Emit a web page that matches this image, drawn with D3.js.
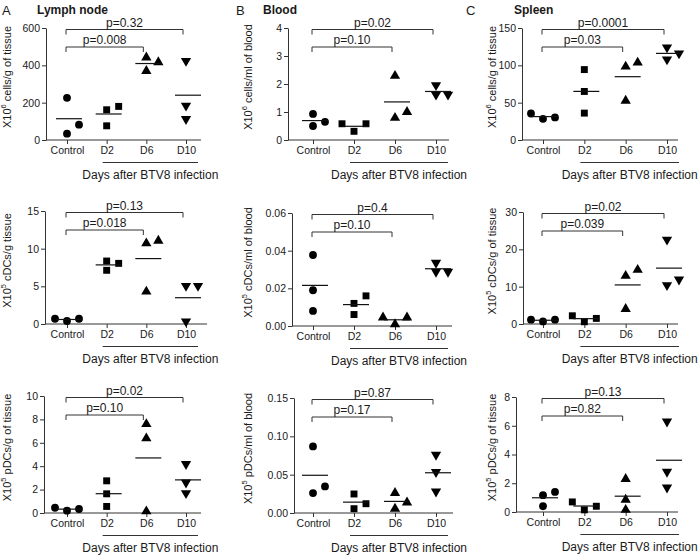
<!DOCTYPE html>
<html>
<head>
<meta charset="utf-8">
<script src="https://cdn.jsdelivr.net/npm/d3@7"></script>
<style>
  html, body { margin: 0; padding: 0; background: #fff; }
  svg { display: block; font-family: "Liberation Sans", Arial, sans-serif; }
</style>
</head>
<body>
<svg id="chart" width="700" height="556"></svg>
<script>
// ---------------- DATA ----------------
const groups = ["Control", "D2", "D6", "D10"];
const groupShapes = ["circle", "square", "triangle", "triangleDown"];

// Lymph node
const lnCells = [[226, 82, 34], [180, 162, 76], [442, 417, 370], [424, 184, 112]];
const lnCDC   = [[0.7, 0.4, 0.7], [8.36, 8.05, 7.13], [11.05, 10.7, 4.3], [5.06, 5.06, 0.35]];
const lnPDC   = [[0.45, 0.2, 0.34], [2.75, 1.64, 0.56], [7.6, 6.38, 0.14], [4.19, 2.6, 1.7]];
// Blood
const blCells = [[0.93, 0.65, 0.5], [0.58, 0.58, 0.31], [2.29, 1.0, 0.79], [1.96, 1.62, 1.62]];
const blCDC   = [[0.0377, 0.019, 0.008], [0.016, 0.012, 0.0061], [0.0045, 0.0045, 0.0009], [0.0336, 0.0288, 0.0288]];
const blPDC   = [[0.0869, 0.0347, 0.026], [0.0248, 0.0121, 0.0056], [0.026, 0.0138, 0.0056], [0.076, 0.0535, 0.028]];
// Spleen
const spCells = [[35.5, 30.2, 28.4], [94.3, 65, 36], [103.6, 98.3, 52.5], [124, 116, 108]];
const spCDC   = [[1.15, 0.7, 1.15], [2.2, 1.5, 0.6], [14.5, 12.9, 4.0], [22.6, 11.9, 10.4]];
const spPDC   = [[1.4, 1.17, 0.4], [0.7, 0.4, 0.15], [2.3, 0.85, 0.15], [6.3, 2.8, 1.7]];

// Y tick values
const lnCellsTicks = [0, 200, 400, 600];
const lnCDCTicks   = [0, 5, 10, 15];
const lnPDCTicks   = [0, 2, 4, 6, 8, 10];
const blCellsTicks = [0, 1, 2, 3, 4];
const blCDCTicks   = [0, 0.02, 0.04, 0.06];
const blPDCTicks   = [0, 0.05, 0.10, 0.15];
const spCellsTicks = [0, 50, 100, 150];
const spCDCTicks   = [0, 10, 20, 30];
const spPDCTicks   = [0, 2, 4, 6, 8];

// p-values: [Control vs D6, Control vs D10]
const lnCellsP = ["p=0.008", "p=0.32"];
const lnCDCP   = ["p=0.018", "p=0.13"];
const lnPDCP   = ["p=0.10", "p=0.02"];
const blCellsP = ["p=0.10", "p=0.02"];
const blCDCP   = ["p=0.10", "p=0.4"];
const blPDCP   = ["p=0.17", "p=0.87"];
const spCellsP = ["p=0.03", "p=0.0001"];
const spCDCP   = ["p=0.039", "p=0.02"];
const spPDCP   = ["p=0.82", "p=0.13"];

// Y axis label parts: [prefix, exponent, rest]
const lnCellsLab = ["X10", "6", " cells/g of tissue"];
const lnCDCLab   = ["X10", "5", " cDCs/g tissue"];
const lnPDCLab   = ["X10", "5", " pDCs/g of tissue"];
const blCellsLab = ["X10", "6", " cells/ml of blood"];
const blCDCLab   = ["X10", "5", " cDCs/ml of blood"];
const blPDCLab   = ["X10", "5", " pDCs/ml of blood"];
const spCellsLab = ["X10", "6", " cells/g of tissue"];
const spCDCLab   = ["X10", "5", " cDCs/g of tissue"];
const spPDCLab   = ["X10", "5", " pDCs/g of tissue"];

const columnLetters = ["A", "B", "C"];
const columnTitles = ["Lymph node", "Blood", "Spleen"];
const xAxisTitle = "Days after BTV8 infection";

// ---------------- LAYOUT ----------------
const cols = [
  { catL: 67, catR: 186, labelX: 7, letterX: 2, titleX: 37 },
  { catL: 313, catR: 436, labelX: 248, letterX: 236, titleX: 263 },
  { catL: 543, catR: 667, labelX: 492, letterX: 466, titleX: 514 }
];
const panels = [
  { col: 0, left: 46, right: 201, top: 28, bottom: 140, data: lnCells, ticks: lnCellsTicks, p: lnCellsP, lab: lnCellsLab, fmt: "d" },
  { col: 1, left: 288, right: 449, top: 28, bottom: 140, data: blCells, ticks: blCellsTicks, p: blCellsP, lab: blCellsLab, fmt: "d" },
  { col: 2, left: 522, right: 678, top: 28, bottom: 140, data: spCells, ticks: spCellsTicks, p: spCellsP, lab: spCellsLab, fmt: "d" },
  { col: 0, left: 45, right: 207, top: 211, bottom: 324, data: lnCDC, ticks: lnCDCTicks, p: lnCDCP, lab: lnCDCLab, fmt: "d" },
  { col: 1, left: 292, right: 452, top: 213, bottom: 326, data: blCDC, ticks: blCDCTicks, p: blCDCP, lab: blCDCLab, fmt: ".2f" },
  { col: 2, left: 523, right: 678, top: 212, bottom: 324, data: spCDC, ticks: spCDCTicks, p: spCDCP, lab: spCDCLab, fmt: "d" },
  { col: 0, left: 44, right: 201, top: 396, bottom: 513, data: lnPDC, ticks: lnPDCTicks, p: lnPDCP, lab: lnPDCLab, fmt: "d" },
  { col: 1, left: 294, right: 453, top: 398, bottom: 513, data: blPDC, ticks: blPDCTicks, p: blPDCP, lab: blPDCLab, fmt: ".2f" },
  { col: 2, left: 516, right: 678, top: 397, bottom: 512, data: spPDC, ticks: spPDCTicks, p: spPDCP, lab: spPDCLab, fmt: "d" }
];

const ink = "#1a1a1a";
const lineInk = "#333";
const svg = d3.select("#chart");

// column headers
cols.forEach((c, i) => {
  svg.append("text").attr("x", c.letterX).attr("y", 15)
    .attr("font-size", 13).attr("fill", ink).text(columnLetters[i]);
  svg.append("text").attr("x", c.titleX).attr("y", 14)
    .attr("font-size", 12).attr("font-weight", "bold").attr("fill", ink).text(columnTitles[i]);
});

const symbolFor = {
  circle: d3.symbol().type(d3.symbolCircle).size(48),
  square: d3.symbol().type(d3.symbolSquare).size(48),
  triangle: d3.symbol().type(d3.symbolTriangle).size(46),
  triangleDown: d3.symbol().type(d3.symbolTriangle).size(46)
};

panels.forEach(pn => {
  const c = cols[pn.col];
  const g = svg.append("g");
  const y = d3.scaleLinear()
    .domain([0, pn.ticks[pn.ticks.length - 1]])
    .range([pn.bottom, pn.top]);
  const x = d3.scalePoint().domain(groups).range([c.catL, c.catR]);

  // Y axis
  const yAxis = d3.axisLeft(y).tickValues(pn.ticks).tickSizeOuter(0).tickSizeInner(4).tickPadding(2)
    .tickFormat(d3.format(pn.fmt));
  const ya = g.append("g").attr("transform", `translate(${pn.left},0)`).call(yAxis);
  ya.select(".domain").attr("stroke", lineInk).attr("stroke-width", 1);
  ya.selectAll(".tick line").attr("stroke", lineInk);
  ya.selectAll(".tick text").attr("font-size", 10.5).attr("fill", ink)
    .attr("font-family", '"Liberation Sans", Arial, sans-serif');

  // X axis
  const xAxis = d3.axisBottom(x).tickSizeOuter(0).tickSizeInner(4).tickPadding(3);
  const xa = g.append("g").attr("transform", `translate(0,${pn.bottom})`).call(xAxis);
  xa.select(".domain").remove();
  xa.append("line").attr("x1", pn.left).attr("x2", pn.right).attr("y1", 0).attr("y2", 0)
    .attr("stroke", lineInk).attr("stroke-width", 1);
  xa.selectAll(".tick line").attr("stroke", lineInk);
  xa.selectAll(".tick text").attr("font-size", 10.5).attr("fill", ink)
    .attr("font-family", '"Liberation Sans", Arial, sans-serif');

  // Y label
  const ly = (pn.top + pn.bottom) / 2 - 7;
  const lt = g.append("text")
    .attr("transform", `translate(${c.labelX},${ly}) rotate(-90)`)
    .attr("text-anchor", "middle").attr("dominant-baseline", "central")
    .attr("font-size", 11).attr("fill", ink);
  lt.append("tspan").text(pn.lab[0]);
  lt.append("tspan").attr("font-size", 7.5).attr("dy", -4).text(pn.lab[1]);
  lt.append("tspan").attr("dy", 4).text(pn.lab[2]);

  // group underline + title
  const ux1 = x("D2") - 4, ux2 = x("D10") + 12;
  g.append("line").attr("x1", ux1).attr("x2", ux2)
    .attr("y1", pn.bottom + 22.5).attr("y2", pn.bottom + 22.5)
    .attr("stroke", lineInk).attr("stroke-width", 1);
  g.append("text").attr("x", (ux1 + ux2) / 2).attr("y", pn.bottom + 39)
    .attr("text-anchor", "middle").attr("font-size", 12).attr("fill", ink).text(xAxisTitle);

  // significance brackets
  const brackets = [
    { to: "D6", yy: pn.top + 19, label: pn.p[0] },
    { to: "D10", yy: pn.top + 1.5, label: pn.p[1] }
  ];
  brackets.forEach(b => {
    const x1 = x("Control") - 1, x2 = x(b.to) - 3;
    g.append("path")
      .attr("d", `M${x1},${b.yy + 5}V${b.yy}H${x2}V${b.yy + 5}`)
      .attr("fill", "none").attr("stroke", lineInk).attr("stroke-width", 1);
    g.append("text").attr("x", (x1 + x2) / 2).attr("y", b.yy - 3)
      .attr("text-anchor", "middle").attr("font-size", 12).attr("fill", ink).text(b.label);
  });

  // points with simple collision-avoiding jitter
  const offsets = [0, 6, -6, 12, -12];
  pn.data.forEach((vals, gi) => {
    const cx = x(groups[gi]);
    const sorted = vals.slice().sort((a, b) => a - b);
    const placed = [];
    sorted.forEach(v => {
      const py = y(v);
      let off = 0;
      for (const o of offsets) {
        const hit = placed.some(p => Math.abs(p.dx - o) < 7 && Math.abs(p.py - py) < 9);
        if (!hit) { off = o; break; }
      }
      placed.push({ dx: off, py: py, v: v });
    });
    const shape = groupShapes[gi];
    placed.forEach(p => {
      g.append("path")
        .attr("d", symbolFor[shape]())
        .attr("transform", `translate(${cx + p.dx},${p.py})${shape === "triangleDown" ? " rotate(180)" : ""}`)
        .attr("fill", "#000");
    });
    // mean line
    const m = d3.mean(vals);
    g.append("line").attr("x1", cx + 2 - 13).attr("x2", cx + 2 + 13)
      .attr("y1", y(m)).attr("y2", y(m))
      .attr("stroke", "#111").attr("stroke-width", 1.2);
  });
});
</script>
</body>
</html>
